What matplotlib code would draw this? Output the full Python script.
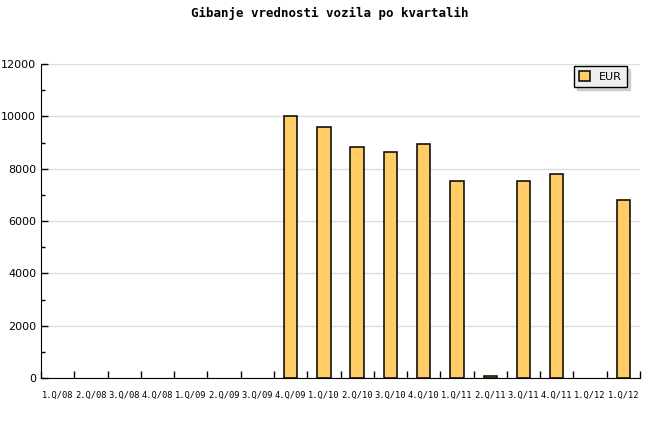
import matplotlib
matplotlib.use("Agg")
import matplotlib.pyplot as plt
import numpy as np

# quarters and vehicle value (EUR), 0 = no data
quarters = ["1.Q/08", "2.Q/08", "3.Q/08", "4.Q/08", "1.Q/09", "2.Q/09", "3.Q/09",
            "4.Q/09", "1.Q/10", "2.Q/10", "3.Q/10", "4.Q/10", "1.Q/11", "2.Q/11",
            "3.Q/11", "4.Q/11", "1.Q/12", "1.Q/12"]
eur = [0, 0, 0, 0, 0, 0, 0,
       10030, 9610, 8810, 8620, 8960, 7520, 80,
       7520, 7790, 0, 6800]

fig = plt.figure(figsize=(6.6, 4.4), dpi=100)
ax = fig.add_axes([41/660, 62/440, 599/660, 314/440])

x = np.arange(len(quarters))
vals = np.array(eur, dtype=float)
has = vals > 0
ax.bar(x[has], vals[has], width=0.4, color="#ffcc66", edgecolor="black",
       linewidth=1.1, label="EUR", zorder=3)

ax.set_xlim(-0.5, len(quarters) - 0.5)
ax.set_ylim(0, 12000)
ax.set_yticks(np.arange(0, 12001, 2000))
ax.set_yticks(np.arange(0, 12001, 1000), minor=True)
ax.set_xticks(np.arange(-0.5, len(quarters), 1.0))
ax.set_xticklabels([])
ax.set_xticks(x, minor=True)
ax.set_xticklabels(quarters, minor=True, fontsize=6.3, family="DejaVu Sans Mono")

ax.grid(axis="y", color="#dddddd", linewidth=1, zorder=0)
ax.spines["top"].set_visible(False)
ax.spines["right"].set_visible(False)
ax.tick_params(axis="y", which="major", direction="in", length=5, width=1,
               labelsize=8)
ax.tick_params(axis="y", which="minor", direction="in", length=3, width=1)
ax.tick_params(axis="x", which="major", direction="in", length=5, width=1)
ax.tick_params(axis="x", which="minor", length=0, pad=9)

fig.suptitle("Gibanje vrednosti vozila po kvartalih", x=0.5, y=0.985,
             fontsize=9, fontweight="bold", family="DejaVu Sans Mono")

leg = ax.legend(loc="upper right", bbox_to_anchor=(627/660, 1 - 66/440),
                bbox_transform=fig.transFigure, borderaxespad=0,
                fancybox=False, shadow={"color": "#aaaaaa"}, fontsize=8,
                handlelength=1.0, handleheight=1.0, framealpha=1,
                borderpad=0.45, handletextpad=0.8)
leg.get_frame().set_facecolor("#eeeeee")
leg.get_frame().set_edgecolor("black")

fig.savefig("out.png", dpi=100)
